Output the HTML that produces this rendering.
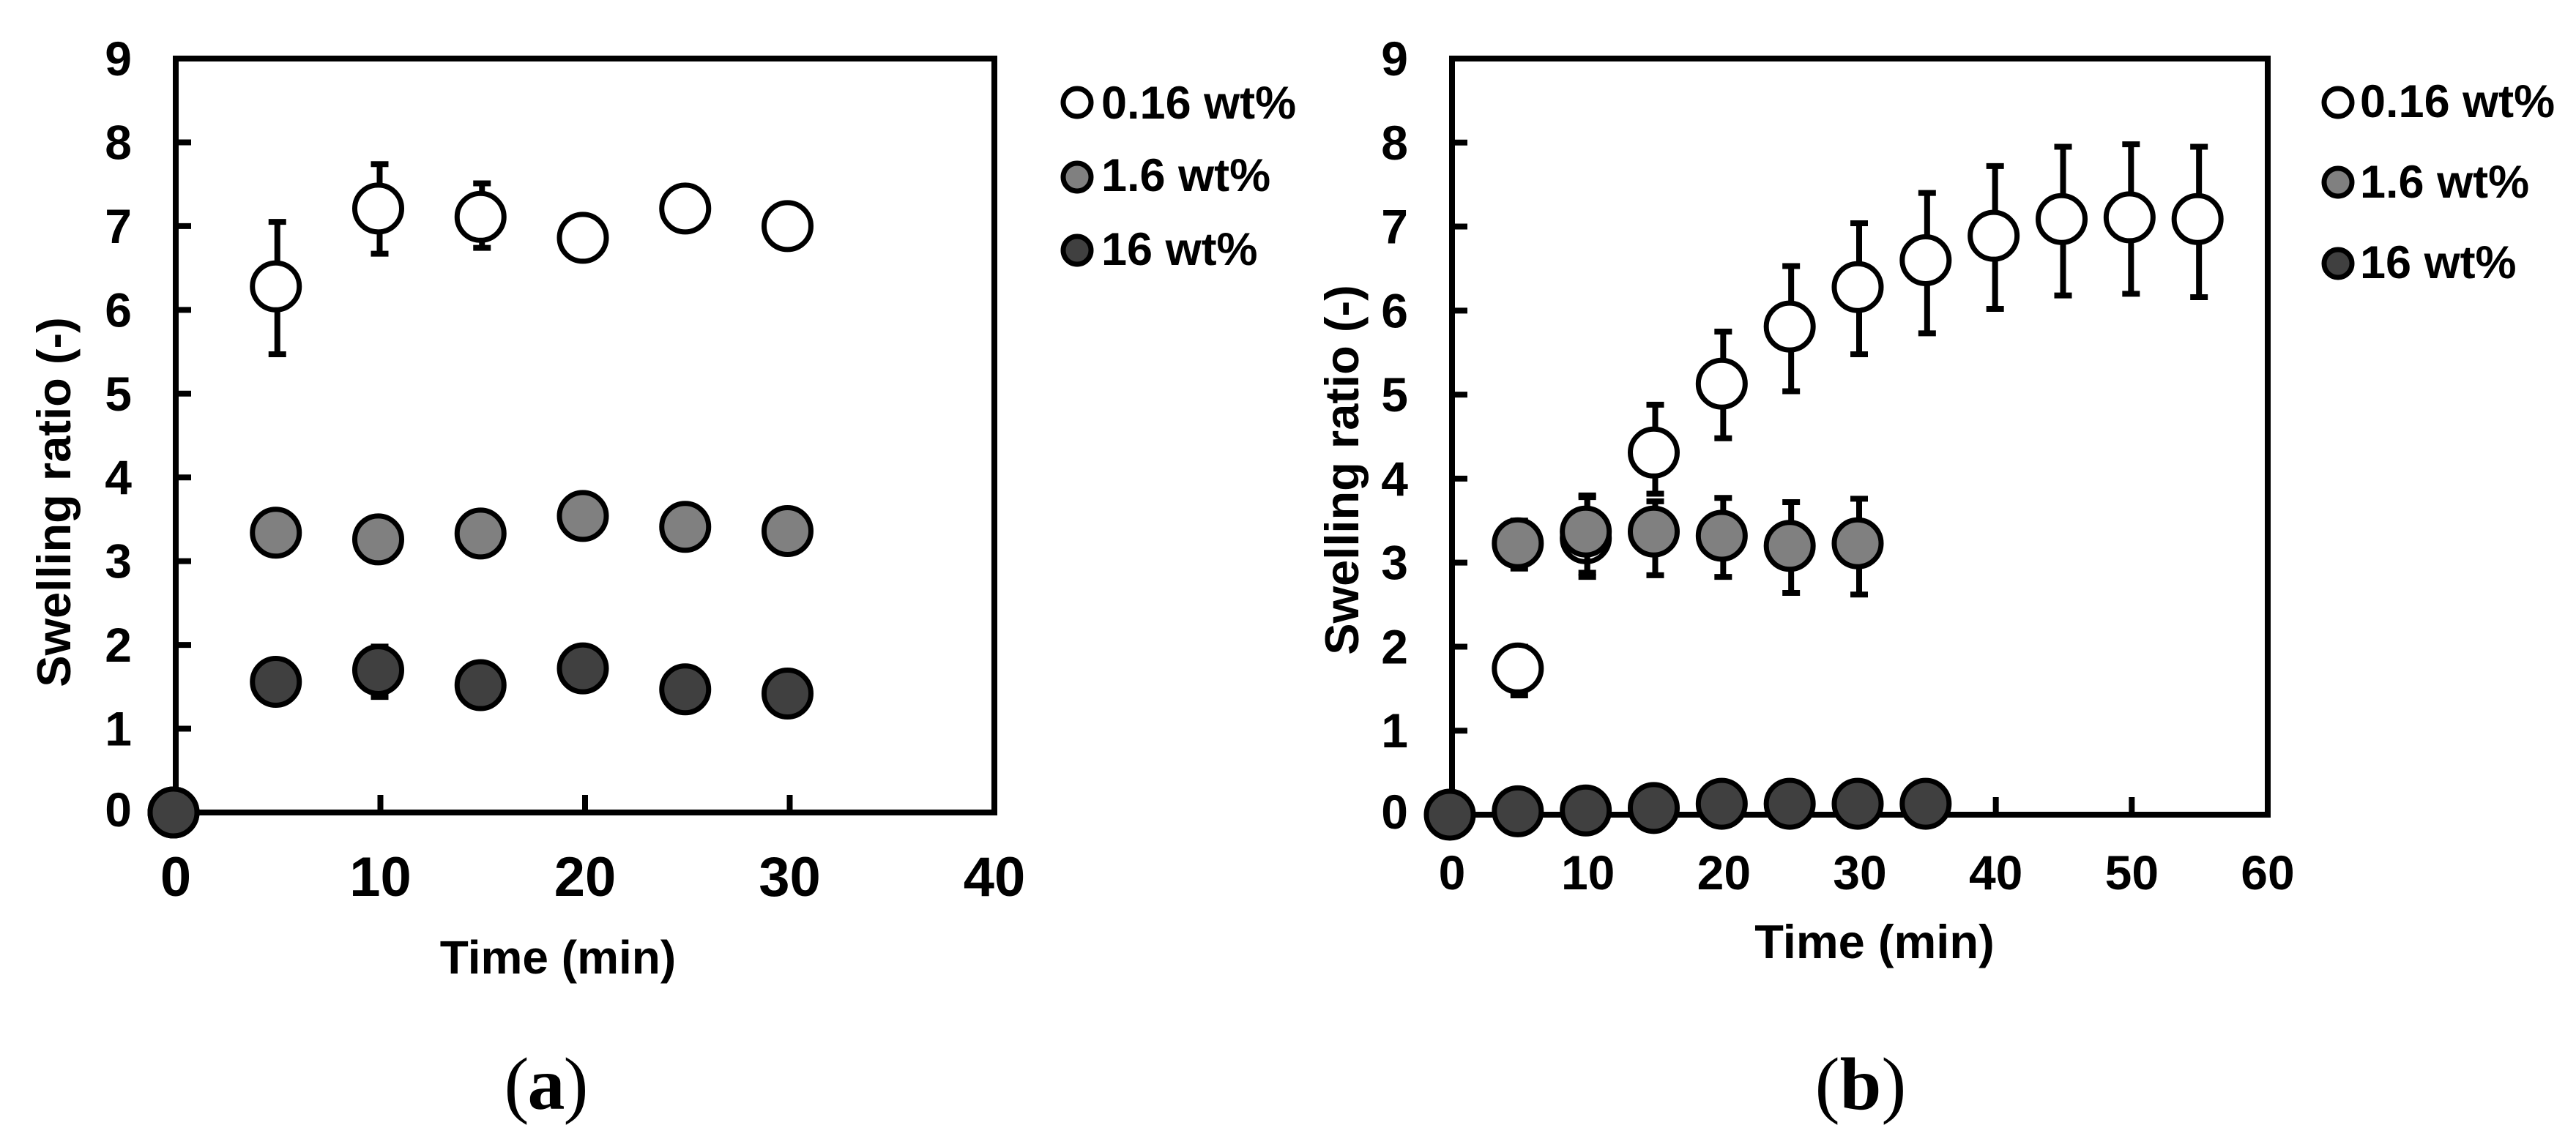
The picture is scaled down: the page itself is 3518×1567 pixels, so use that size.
<!DOCTYPE html>
<html lang="en">
<head>
<meta charset="utf-8">
<title>Swelling ratio over time</title>
<style>
html,body{margin:0;padding:0;background:#fff;}
svg{display:block;}
text{font-family:"Liberation Sans",Arial,sans-serif;font-weight:700;fill:#000;}
.tick-x-a{font-size:76px;text-anchor:middle;}
.tick-x-b{font-size:66px;text-anchor:middle;}
.tick-y{font-size:66px;text-anchor:end;}
.axis-title{font-size:64px;text-anchor:middle;}
.y-title{font-size:65px;text-anchor:middle;}
.legend-text{font-size:63px;}
.caption{font-family:"Liberation Serif",serif;font-size:102px;font-weight:400;text-anchor:middle;}
.caption tspan{font-weight:700;}
</style>
</head>
<body>
<svg id="figure" xmlns="http://www.w3.org/2000/svg" width="3518" height="1567" viewBox="0 0 3518 1567">
  <rect x="0" y="0" width="3518" height="1567" fill="#fff"/>

  <g id="chart-a"></g>
  <text class="axis-title" x="762" y="1330">Time (min)</text>
  <text class="y-title" transform="translate(96 686) rotate(-90)">Swelling ratio (-)</text>
  <g>
    <g>
      <circle cx="1471" cy="140" r="19" fill="#fff" stroke="#000" stroke-width="7"/>
      <text class="legend-text" x="1504" y="162">0.16 wt%</text>
    </g>
    <g>
      <circle cx="1471" cy="242" r="19" fill="#808080" stroke="#000" stroke-width="7"/>
      <text class="legend-text" x="1504" y="261">1.6 wt%</text>
    </g>
    <g>
      <circle cx="1471" cy="342" r="19" fill="#404040" stroke="#000" stroke-width="7"/>
      <text class="legend-text" x="1504" y="362">16 wt%</text>
    </g>
  </g>
  <text class="caption" x="745" y="1515" letter-spacing="-2">(<tspan>a</tspan>)</text>

  <g id="chart-b"></g>
  <text class="axis-title" x="2560" y="1309" style="font-size:65px">Time (min)</text>
  <text class="y-title" transform="translate(1855 642) rotate(-90)">Swelling ratio (-)</text>
  <g>
    <g>
      <circle cx="3193" cy="140" r="19" fill="#fff" stroke="#000" stroke-width="7"/>
      <text class="legend-text" x="3223" y="160">0.16 wt%</text>
    </g>
    <g>
      <circle cx="3193" cy="249" r="19" fill="#808080" stroke="#000" stroke-width="7"/>
      <text class="legend-text" x="3223" y="270">1.6 wt%</text>
    </g>
    <g>
      <circle cx="3193" cy="360" r="19" fill="#404040" stroke="#000" stroke-width="7"/>
      <text class="legend-text" x="3223" y="380">16 wt%</text>
    </g>
  </g>
  <text class="caption" x="2541" y="1515">(<tspan>b</tspan>)</text>
</svg>

<script>
// Shared tick labels
const yTickLabels = [0, 1, 2, 3, 4, 5, 6, 7, 8, 9];

// Panel (a) data
const aXTickLabels = [0, 10, 20, 30, 40];
const aTimeLow = [0, 5, 10, 15, 20, 25, 30];
const aLowMean = [0, 6.28, 7.21, 7.11, 6.86, 7.21, 7.0];
const aLowHi = [0, 7.05, 7.74, 7.51, 7.02, 7.36, 7.14];
const aLowLo = [0, 5.47, 6.67, 6.74, 6.72, 7.06, 6.86];
const aTimeMid = [0, 5, 10, 15, 20, 25, 30];
const aMidMean = [0, 3.34, 3.26, 3.33, 3.54, 3.41, 3.36];
const aMidHi = [0, 3.49, 3.41, 3.48, 3.69, 3.56, 3.51];
const aMidLo = [0, 3.19, 3.11, 3.18, 3.39, 3.26, 3.21];
const aTimeHigh = [0, 5, 10, 15, 20, 25, 30];
const aHighMean = [0, 1.56, 1.7, 1.52, 1.72, 1.47, 1.42];
const aHighHi = [0, 1.71, 1.98, 1.67, 1.87, 1.62, 1.57];
const aHighLo = [0, 1.41, 1.38, 1.37, 1.57, 1.32, 1.27];

// Panel (b) data
const bXTickLabels = [0, 10, 20, 30, 40, 50, 60];
const bTimeLow = [5, 10, 15, 20, 25, 30, 35, 40, 45, 50, 55];
const bLowMean = [1.74, 3.29, 4.31, 5.13, 5.81, 6.28, 6.60, 6.89, 7.09, 7.11, 7.09];
const bLowHi = [2.0, 3.78, 4.88, 5.75, 6.53, 7.04, 7.40, 7.72, 7.95, 7.98, 7.95];
const bLowLo = [1.42, 2.83, 3.82, 4.48, 5.04, 5.48, 5.73, 6.02, 6.18, 6.20, 6.16];
const bTimeMid = [5, 10, 15, 20, 25, 30];
const bMidMean = [3.23, 3.37, 3.37, 3.32, 3.2, 3.23];
const bMidHi = [3.5, 3.80, 3.73, 3.77, 3.72, 3.76];
const bMidLo = [2.93, 2.88, 2.85, 2.83, 2.64, 2.62];
const bTimeHigh = [0, 5, 10, 15, 20, 25, 30, 35];
const bHighMean = [0, 0.04, 0.05, 0.08, 0.13, 0.13, 0.13, 0.13];
const bHighHi = [0, 0.08, 0.09, 0.12, 0.17, 0.17, 0.17, 0.17];
const bHighLo = [0, 0, 0.01, 0.04, 0.09, 0.09, 0.09, 0.09];

const SVG_NS = 'http://www.w3.org/2000/svg';
const STROKE = 8;

function make(parent, tag, attrs) {
  const el = document.createElementNS(SVG_NS, tag);
  for (const k in attrs) el.setAttribute(k, attrs[k]);
  parent.appendChild(el);
  return el;
}

function drawSeries(group, key, sx, sy, times, mean, hi, lo, fill) {
  times.forEach(function (t, i) {
    const bx = sx(t) - 1;
    const stem = make(group, 'line', {x1: bx, x2: bx, y1: sy(hi[i]), y2: sy(lo[i]), stroke: '#000', 'stroke-width': STROKE});
    
    
    [hi[i], lo[i]].forEach(function (v) {
      const cap = make(group, 'line', {x1: bx - 12, x2: bx + 12, y1: sy(v), y2: sy(v), stroke: '#000', 'stroke-width': STROKE});
      
      
    });
  });
  times.forEach(function (t, i) {
    const dot = make(group, 'circle', {cx: sx(t) - 3, cy: sy(mean[i]), r: 32, fill: fill, stroke: '#000', 'stroke-width': 7});
    
    
  });
}

function drawAxes(group, id, box, sx, sy, xTicks, xClass, xBase) {
  const frame = make(group, 'rect', {x: box.left, y: box.top, width: box.right - box.left, height: box.bottom - box.top, fill: 'none', stroke: '#000', 'stroke-width': STROKE});
  
  

  yTickLabels.forEach(function (v) {
    if (v > 0 && v < yTickLabels[yTickLabels.length - 1]) {
      const tk = make(group, 'line', {x1: box.left, x2: box.left + 21, y1: sy(v), y2: sy(v), stroke: '#000', 'stroke-width': STROKE});
      
      
    }
    const lb = make(group, 'text', {class: 'tick-y', x: box.left - 60, y: sy(v) + (v === 0 ? 19 : 23)});
    lb.textContent = v;
    
    
  });

  xTicks.forEach(function (v, i) {
    if (i > 0 && i < xTicks.length - 1) {
      const tk = make(group, 'line', {x1: sx(v), x2: sx(v), y1: box.bottom, y2: box.bottom - 24, stroke: '#000', 'stroke-width': STROKE});
      
      
    }
    const lb = make(group, 'text', {class: xClass, x: sx(v), y: xBase});
    lb.textContent = v;
    
    
  });
}

function linear(d0, d1, r0, r1) {
  return function (v) { return r0 + (v - d0) * (r1 - r0) / (d1 - d0); };
}

// Panel (a)
(function () {
  const g = document.getElementById('chart-a');
  const box = {left: 240, right: 1358, top: 80, bottom: 1110};
  const sx = linear(aXTickLabels[0], aXTickLabels[aXTickLabels.length - 1], box.left, box.right);
  const sy = linear(yTickLabels[0], yTickLabels[yTickLabels.length - 1], box.bottom, box.top);
  drawAxes(g, 'a', box, sx, sy, aXTickLabels, 'tick-x-a', 1224);
  drawSeries(g, 'a-0-16-wt', sx, sy, aTimeLow, aLowMean, aLowHi, aLowLo, '#ffffff');
  drawSeries(g, 'a-1-6-wt', sx, sy, aTimeMid, aMidMean, aMidHi, aMidLo, '#808080');
  drawSeries(g, 'a-16-wt', sx, sy, aTimeHigh, aHighMean, aHighHi, aHighLo, '#404040');
})();

// Panel (b)
(function () {
  const g = document.getElementById('chart-b');
  const box = {left: 1983, right: 3097, top: 80, bottom: 1113};
  const sx = linear(bXTickLabels[0], bXTickLabels[bXTickLabels.length - 1], box.left, box.right);
  const sy = linear(yTickLabels[0], yTickLabels[yTickLabels.length - 1], box.bottom, box.top);
  drawAxes(g, 'b', box, sx, sy, bXTickLabels, 'tick-x-b', 1215);
  drawSeries(g, 'b-0-16-wt', sx, sy, bTimeLow, bLowMean, bLowHi, bLowLo, '#ffffff');
  drawSeries(g, 'b-1-6-wt', sx, sy, bTimeMid, bMidMean, bMidHi, bMidLo, '#808080');
  drawSeries(g, 'b-16-wt', sx, sy, bTimeHigh, bHighMean, bHighHi, bHighLo, '#404040');
})();
</script>
</body>
</html>
